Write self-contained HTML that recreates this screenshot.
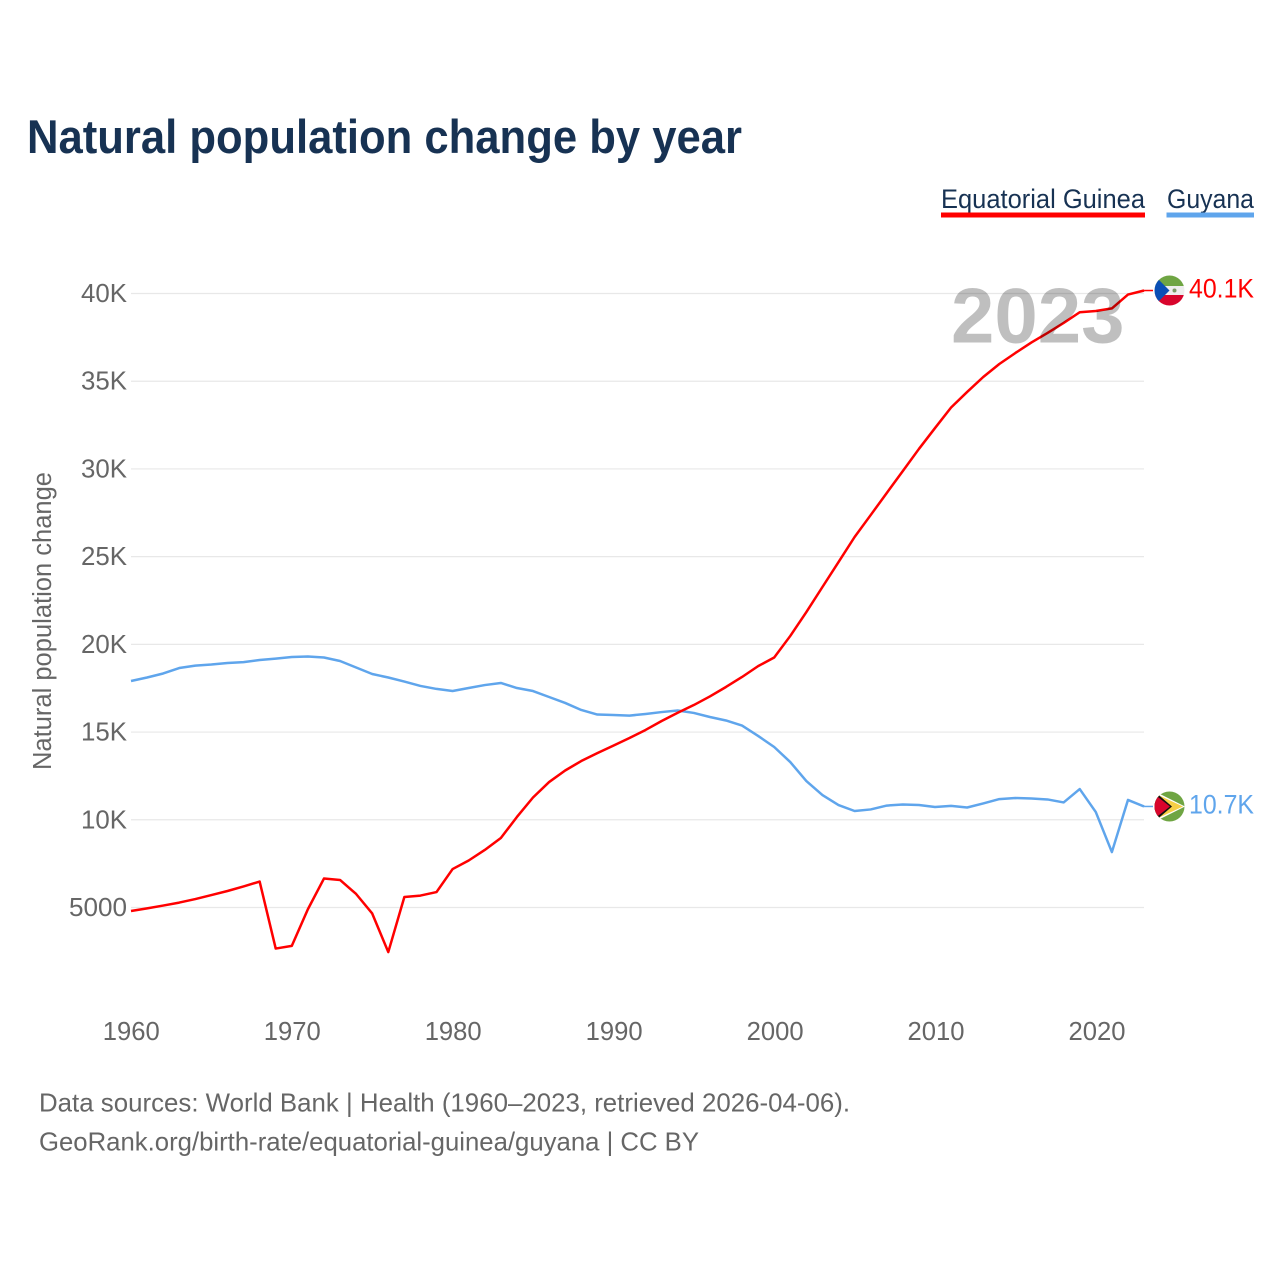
<!DOCTYPE html>
<html lang="en">
<head>
<meta charset="utf-8">
<title>Natural population change by year</title>
<style>
html,body{margin:0;padding:0;background:#fff;width:1280px;height:1280px;overflow:hidden}
svg{display:block}
text{font-family:"Liberation Sans",sans-serif}
</style>
</head>
<body>
<svg id="chart" xmlns="http://www.w3.org/2000/svg" width="1280" height="1280" viewBox="0 0 1280 1280">
  <defs>
    <clipPath id="flag-clip-a"><circle cx="1169.5" cy="290.5" r="15"/></clipPath>
    <clipPath id="flag-clip-b"><circle cx="1169.5" cy="806.5" r="15"/></clipPath>
  </defs>
  <rect width="1280" height="1280" fill="#fff"/>
  <text x="27" y="153" font-size="47" font-weight="700" fill="#173253" textLength="715" lengthAdjust="spacingAndGlyphs">Natural population change by year</text>

  <g>
    <text x="941" y="208" font-size="26.5" fill="#173253" textLength="204" lengthAdjust="spacingAndGlyphs">Equatorial Guinea</text>
    <rect x="941" y="212.5" width="204" height="5" fill="#ff0000"/>
  </g>
  <g>
    <text x="1167" y="208" font-size="26.5" fill="#173253" textLength="87" lengthAdjust="spacingAndGlyphs">Guyana</text>
    <rect x="1166.5" y="212.5" width="87.5" height="5" fill="#5fa5ec"/>
  </g>

  <g id="grid"></g>
  <g id="y-ticks"></g>
  <g id="x-ticks"></g>

  <text transform="translate(51,621) rotate(-90)" text-anchor="middle" font-size="25.5" fill="#666" textLength="298" lengthAdjust="spacingAndGlyphs">Natural population change</text>

  <g id="series"></g>

  <text x="951" y="342.5" font-size="78" font-weight="700" fill="#000" fill-opacity="0.25">2023</text>

  <g clip-path="url(#flag-clip-a)">
    <rect x="1154" y="275" width="31" height="11" fill="#6fa543"/>
    <rect x="1154" y="286" width="31" height="9" fill="#eeeeee"/>
    <rect x="1154" y="295" width="31" height="11" fill="#d8052c"/>
    <polygon points="1154,275 1154,306 1169.5,290.5" fill="#0a4fb5"/>
    <circle cx="1174.5" cy="290.5" r="2" fill="#7c9a66"/>
  </g>
  <g clip-path="url(#flag-clip-b)">
    <rect x="1154" y="791" width="31" height="31" fill="#6fa543"/>
    <polygon points="1154,791 1185,806.5 1154,822" fill="#fff"/>
    <polygon points="1154,793 1183,806.5 1154,820" fill="#f7cf46"/>
    <polygon points="1154,791 1172,806.5 1154,822" fill="#111"/>
    <polygon points="1154,794 1170,806.5 1154,819" fill="#d8052c"/>
  </g>

  <text id="value-label-a" x="1189" y="297.5" font-size="26.5" fill="#ff0000" textLength="65" lengthAdjust="spacingAndGlyphs">40.1K</text>
  <text id="value-label-b" x="1189" y="813.5" font-size="26.5" fill="#5fa5ec" textLength="65" lengthAdjust="spacingAndGlyphs">10.7K</text>

  <text x="39" y="1111.5" font-size="26" fill="#666" textLength="811" lengthAdjust="spacingAndGlyphs">Data sources: World Bank | Health (1960–2023, retrieved 2026-04-06).</text>
  <text x="39" y="1150.5" font-size="26" fill="#666" textLength="660" lengthAdjust="spacingAndGlyphs">GeoRank.org/birth-rate/equatorial-guinea/guyana | CC BY</text>
</svg>
<script>
const startYear = 1960;
const equatorialGuinea = [4800,4950,5110,5280,5480,5710,5940,6200,6480,2660,2810,4900,6650,6570,5770,4660,2460,5600,5680,5880,7190,7680,8280,8960,10160,11270,12150,12810,13350,13800,14230,14660,15120,15630,16100,16540,17030,17570,18140,18760,19250,20480,21840,23270,24690,26120,27370,28630,29880,31140,32330,33500,34390,35240,35980,36610,37210,37750,38320,38930,39000,39150,39940,40170];
const guyana = [17910,18110,18340,18650,18790,18850,18940,18990,19110,19190,19280,19310,19250,19050,18680,18310,18110,17880,17630,17460,17340,17510,17680,17800,17510,17340,17000,16660,16260,16000,15970,15940,16030,16140,16230,16090,15860,15660,15370,14780,14150,13290,12210,11410,10840,10500,10590,10810,10870,10840,10730,10790,10700,10930,11180,11240,11210,11160,10990,11750,10440,8160,11130,10760];
const yTickValues = [5000,10000,15000,20000,25000,30000,35000,40000];
const yTickLabels = ["5000","10K","15K","20K","25K","30K","35K","40K"];
const xTickYears = [1960,1970,1980,1990,2000,2010,2020];

const NS = 'http://www.w3.org/2000/svg';
function xScale(year){ return 131 + (year - 1960) * 16.08; }
function xLabelScale(year){ return 131.3 + (year - 1960) * 16.095; }
function yScale(v){ return 907.5 - (v - 5000) * (614 / 35000); }

function mk(tag, attrs, text){
  const el = document.createElementNS(NS, tag);
  for (const k in attrs) el.setAttribute(k, attrs[k]);
  if (text !== undefined) el.textContent = text;
  return el;
}

const gridG = document.getElementById('grid');
const yG = document.getElementById('y-ticks');
yTickValues.forEach(function(v, i){
  const y = yScale(v);
  const line = mk('line', {x1:131, x2:1144, y1:y, y2:y, stroke:'#e8e8e8', 'stroke-width':1.2});
  
  
  gridG.appendChild(line);
  const label = yTickLabels[i];
  const t = mk('text', {x:127, y:y + 8.5, 'text-anchor':'end', 'font-size':26, fill:'#666', textLength: label.length === 4 ? 58 : 46, lengthAdjust:'spacingAndGlyphs'}, label);
  
  
  yG.appendChild(t);
});

const xG = document.getElementById('x-ticks');
xTickYears.forEach(function(yr){
  const t = mk('text', {x:xLabelScale(yr), y:1040, 'text-anchor':'middle', 'font-size':26, fill:'#666', textLength:57, lengthAdjust:'spacingAndGlyphs'}, String(yr));
  
  
  xG.appendChild(t);
});

function pathFor(values){
  return values.map(function(v, i){
    return (i ? 'L' : 'M') + xScale(startYear + i).toFixed(2) + ' ' + yScale(v).toFixed(2);
  }).join(' ');
}
const seriesG = document.getElementById('series');

const guyanaLine = mk('path', {d:pathFor(guyana), fill:'none', stroke:'#5fa5ec', 'stroke-width':2.5, 'stroke-linejoin':'round'});


seriesG.appendChild(guyanaLine);

const eqLine = mk('path', {d:pathFor(equatorialGuinea), fill:'none', stroke:'#ff0000', 'stroke-width':2.5, 'stroke-linejoin':'round'});


seriesG.appendChild(eqLine);

const lastYearX = xScale(startYear + guyana.length - 1);
const eqEndY = yScale(equatorialGuinea[equatorialGuinea.length - 1]);
const guyEndY = yScale(guyana[guyana.length - 1]);
const eqConn = mk('line', {x1:lastYearX, x2:1153, y1:eqEndY, y2:eqEndY, stroke:'#ff0000', 'stroke-width':1.5});


seriesG.appendChild(eqConn);
const guyConn = mk('line', {x1:lastYearX, x2:1153, y1:guyEndY, y2:guyEndY, stroke:'#5fa5ec', 'stroke-width':1.5});


seriesG.appendChild(guyConn);
</script>
</body>
</html>
